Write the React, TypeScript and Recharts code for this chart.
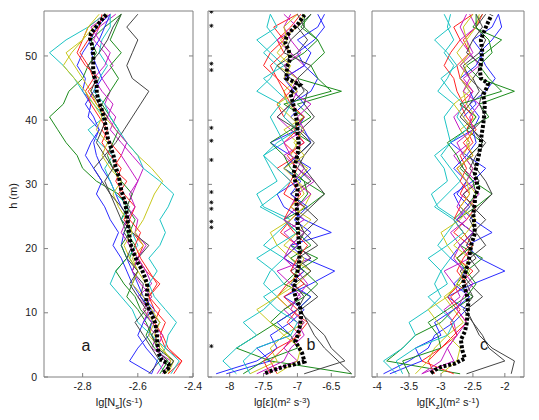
import { Scatter, ScatterChart, XAxis, YAxis } from "recharts"

const W = 539
const HT = 420
const TOP = 11
const BOTTOM = 377
const FONT = '"Liberation Sans", Arial, Helvetica, sans-serif'
const FRAME = "#808080"
const INK = "#1a1a1a"

// heights (m) at which the individual profiles are sampled
const depths = [0.5, 2.5, 4.5, 6.5, 8.5, 10.5, 12.5, 14.5, 16.5, 18.5, 20.5, 22.5, 24.5, 26.5, 28.5, 30.5, 32.5, 34.5, 36.5, 38.5, 40.5, 42.5, 44.5, 46.5, 48.5, 50.5, 52.5, 54.5, 56.5]
const hTicks = [0, 10, 20, 30, 40, 50]

// matlab-ish line order b g r c m y k
const lineColors = ["#2a2aff", "#1c8c1c", "#ff2424", "#1cc4c4", "#c41cc4", "#c8c81c", "#444444", "#2a2aff", "#1c8c1c", "#ff2424", "#1cc4c4", "#c41cc4", "#c8c81c", "#444444"]

// ---- panel a : lg Ns ----
const ticksA = [-2.8, -2.6, -2.4]
const profilesA = [
  [-2.55, -2.63, -2.60, -2.56, -2.55, -2.54, -2.58, -2.60, -2.62, -2.64, -2.66, -2.65, -2.63, -2.66, -2.68, -2.70, -2.73, -2.75, -2.76, -2.74, -2.78, -2.77, -2.80, -2.79, -2.82, -2.80, -2.77, -2.75, -2.70],
  [-2.50, -2.47, -2.52, -2.55, -2.57, -2.60, -2.64, -2.62, -2.60, -2.63, -2.61, -2.64, -2.66, -2.64, -2.67, -2.75, -2.80, -2.82, -2.86, -2.89, -2.92, -2.87, -2.85, -2.80, -2.78, -2.75, -2.77, -2.72, -2.66],
  [-2.47, -2.44, -2.50, -2.52, -2.50, -2.54, -2.56, -2.52, -2.57, -2.60, -2.58, -2.62, -2.65, -2.63, -2.67, -2.64, -2.69, -2.66, -2.70, -2.73, -2.71, -2.75, -2.78, -2.74, -2.79, -2.82, -2.80, -2.78, -2.72],
  [-2.50, -2.53, -2.50, -2.55, -2.60, -2.62, -2.66, -2.70, -2.68, -2.64, -2.60, -2.62, -2.66, -2.63, -2.68, -2.70, -2.72, -2.69, -2.74, -2.78, -2.72, -2.76, -2.80, -2.83, -2.87, -2.92, -2.86, -2.78, -2.72],
  [-2.51, -2.48, -2.55, -2.53, -2.58, -2.56, -2.60, -2.55, -2.57, -2.60, -2.57, -2.61, -2.60, -2.64, -2.62, -2.60, -2.58, -2.62, -2.66, -2.70, -2.68, -2.72, -2.70, -2.73, -2.69, -2.72, -2.76, -2.74, -2.68],
  [-2.49, -2.47, -2.52, -2.56, -2.54, -2.58, -2.55, -2.57, -2.60, -2.62, -2.58, -2.61, -2.58, -2.56, -2.54, -2.51, -2.55, -2.60, -2.64, -2.68, -2.72, -2.75, -2.77, -2.80, -2.83, -2.86, -2.80, -2.76, -2.71],
  [-2.50, -2.47, -2.53, -2.55, -2.52, -2.56, -2.59, -2.58, -2.62, -2.60, -2.56, -2.62, -2.66, -2.68, -2.70, -2.73, -2.76, -2.72, -2.68, -2.65, -2.62, -2.59, -2.56, -2.62, -2.64, -2.62, -2.60, -2.64, -2.60],
  [-2.55, -2.53, -2.57, -2.60, -2.58, -2.55, -2.59, -2.62, -2.64, -2.66, -2.69, -2.67, -2.70, -2.72, -2.75, -2.73, -2.76, -2.79, -2.77, -2.74, -2.76, -2.79, -2.76, -2.73, -2.75, -2.77, -2.74, -2.72, -2.70],
  [-2.52, -2.49, -2.54, -2.57, -2.55, -2.59, -2.61, -2.65, -2.68, -2.64, -2.66, -2.63, -2.61, -2.64, -2.62, -2.66, -2.69, -2.71, -2.69, -2.67, -2.70, -2.73, -2.70, -2.67, -2.70, -2.66, -2.70, -2.68, -2.66],
  [-2.49, -2.44, -2.49, -2.51, -2.54, -2.52, -2.56, -2.53, -2.56, -2.59, -2.61, -2.59, -2.63, -2.61, -2.65, -2.68, -2.66, -2.70, -2.73, -2.71, -2.74, -2.77, -2.79, -2.76, -2.78, -2.81, -2.78, -2.74, -2.73],
  [-2.48, -2.45, -2.50, -2.49, -2.46, -2.50, -2.54, -2.56, -2.53, -2.56, -2.52, -2.50, -2.52, -2.49, -2.47, -2.52, -2.58, -2.60, -2.64, -2.67, -2.70, -2.72, -2.76, -2.74, -2.71, -2.74, -2.73, -2.70, -2.70],
  [-2.53, -2.50, -2.53, -2.51, -2.55, -2.58, -2.55, -2.59, -2.62, -2.60, -2.63, -2.66, -2.64, -2.61, -2.63, -2.60, -2.63, -2.66, -2.64, -2.68, -2.71, -2.69, -2.73, -2.76, -2.72, -2.70, -2.74, -2.77, -2.70],
  [-2.50, -2.48, -2.51, -2.54, -2.52, -2.55, -2.58, -2.62, -2.60, -2.63, -2.65, -2.62, -2.64, -2.67, -2.69, -2.66, -2.70, -2.73, -2.71, -2.75, -2.73, -2.76, -2.79, -2.83, -2.87, -2.84, -2.80, -2.78, -2.74],
  [-2.56, -2.52, -2.55, -2.58, -2.61, -2.57, -2.60, -2.63, -2.60, -2.64, -2.62, -2.65, -2.63, -2.66, -2.70, -2.72, -2.69, -2.72, -2.75, -2.73, -2.71, -2.74, -2.77, -2.75, -2.78, -2.74, -2.71, -2.69, -2.66],
]
const meanAH = [0.7, 1.1, 1.6, 2.1, 2.6, 3.7, 5.2, 6.8, 8.4, 9.7, 10.7, 11.7, 12.8, 14.1, 15.4, 16.7, 18.0, 19.3, 20.8, 22.9, 25.0, 27.0, 29.1, 31.2, 32.8, 34.3, 35.9, 37.4, 39.0, 40.5, 41.8, 42.9, 44.2, 45.5, 46.8, 48.1, 49.9, 51.4, 52.7, 53.5, 55.1, 56.5]
const meanAX = [-2.508, -2.495, -2.484, -2.490, -2.513, -2.525, -2.529, -2.531, -2.537, -2.549, -2.561, -2.570, -2.567, -2.565, -2.573, -2.585, -2.603, -2.615, -2.627, -2.633, -2.639, -2.645, -2.660, -2.669, -2.681, -2.687, -2.699, -2.710, -2.716, -2.723, -2.732, -2.741, -2.749, -2.749, -2.758, -2.762, -2.761, -2.764, -2.773, -2.770, -2.741, -2.713]

// ---- panel b : lg epsilon ----
const ticksB = [-8, -7.5, -7, -6.5]
const profilesB = [
  [-8.2, -7.6, -7.3, -7.4, -7.1, -6.9, -7.2, -6.8, -6.45, -6.9, -7.1, -6.5, -6.9, -7.2, -7.3, -7.0, -6.8, -7.1, -7.4, -7.0, -6.9, -7.1, -6.8, -6.7, -6.9, -7.0, -6.75, -6.6, -6.7],
  [-6.2, -7.4, -7.9, -7.6, -7.3, -7.0, -6.8, -7.2, -7.0, -6.7, -7.1, -6.9, -7.2, -6.85, -6.6, -6.9, -7.2, -7.0, -6.8, -7.1, -6.8, -7.0, -6.35, -7.0, -7.2, -6.9, -6.7, -6.95, -6.8],
  [-7.3, -7.4, -7.2, -7.0, -6.85, -7.1, -7.3, -7.15, -6.9, -7.2, -7.0, -7.25, -7.1, -6.9, -7.2, -7.1, -7.3, -7.0, -7.2, -7.0, -7.2, -7.3, -7.1, -7.3, -7.4, -7.2, -7.3, -7.1, -6.95],
  [-7.9, -8.1, -7.9, -7.6, -7.8, -7.5, -7.3, -7.5, -7.4, -7.2, -7.5, -7.3, -7.1, -7.5, -7.6, -7.3, -7.4, -7.5, -7.2, -7.3, -7.4, -7.25, -7.6, -7.4, -7.3, -7.5, -7.3, -7.45, -7.4],
  [-7.6, -7.2, -7.1, -6.9, -7.0, -7.2, -6.95, -7.1, -7.3, -6.8, -7.0, -7.2, -6.9, -7.1, -7.0, -6.75, -7.0, -7.2, -6.9, -7.1, -7.3, -7.1, -7.0, -7.2, -6.9, -7.1, -7.3, -7.0, -7.2],
  [-7.7, -7.3, -7.4, -7.2, -6.9, -7.1, -7.3, -7.0, -6.8, -7.1, -7.3, -7.4, -7.1, -6.9, -6.8, -7.0, -6.85, -7.1, -7.0, -7.2, -6.9, -7.15, -7.2, -7.0, -7.3, -7.1, -7.25, -7.0, -6.9],
  [-6.2, -6.4, -6.6, -6.75, -6.85, -6.95, -6.7, -6.9, -7.1, -6.8, -7.0, -6.9, -6.7, -6.9, -7.1, -6.8, -7.0, -6.9, -6.75, -6.95, -6.75, -6.9, -6.85, -7.1, -7.3, -7.0, -6.85, -7.0, -6.8],
  [-8.05, -7.4, -7.6, -7.1, -7.3, -7.0, -6.8, -7.1, -6.9, -7.2, -7.0, -6.8, -7.05, -6.85, -7.1, -6.95, -7.2, -7.0, -6.8, -6.9, -7.1, -6.9, -7.05, -7.2, -6.9, -6.8, -7.0, -6.7, -6.6],
  [-7.8, -7.5, -7.0, -7.1, -7.4, -7.2, -6.9, -6.7, -6.9, -7.1, -6.8, -7.0, -7.2, -7.0, -6.85, -6.9, -7.1, -7.2, -7.4, -7.1, -6.9, -7.2, -6.5, -6.7, -6.8, -6.6, -6.7, -6.9, -6.9],
  [-7.4, -7.5, -7.3, -6.95, -7.15, -7.0, -7.2, -6.9, -7.1, -7.0, -6.85, -7.05, -7.2, -7.1, -6.95, -7.1, -7.0, -7.15, -6.9, -7.05, -6.9, -7.1, -7.2, -7.3, -7.5, -7.4, -7.2, -7.35, -7.0],
  [-7.7, -7.8, -7.6, -7.1, -7.0, -7.3, -7.5, -7.2, -7.35, -7.6, -7.3, -7.0, -7.2, -7.55, -7.3, -7.1, -7.3, -7.5, -7.3, -7.0, -7.2, -7.1, -7.3, -7.5, -7.2, -7.4, -7.6, -7.3, -7.4],
  [-7.5, -7.0, -7.2, -7.05, -6.9, -7.1, -7.0, -6.85, -7.0, -7.2, -7.1, -6.9, -7.2, -7.0, -6.8, -7.05, -6.9, -7.1, -7.2, -6.9, -7.0, -6.8, -7.1, -7.0, -7.2, -6.95, -7.1, -7.2, -7.1],
  [-7.3, -7.0, -6.95, -7.2, -7.4, -7.6, -7.3, -7.1, -7.0, -6.9, -7.2, -7.0, -6.8, -7.1, -6.9, -7.0, -7.2, -6.9, -7.05, -6.9, -7.1, -7.3, -7.0, -7.2, -7.1, -7.3, -7.15, -7.2, -7.0],
  [-6.9, -6.3, -6.5, -6.6, -6.8, -7.0, -6.9, -7.05, -6.8, -7.0, -6.7, -6.9, -7.0, -6.8, -6.6, -6.75, -6.9, -7.0, -6.8, -7.0, -7.3, -7.1, -6.9, -7.0, -6.8, -7.2, -7.1, -6.9, -7.0],
]
const meanBH = [0.6, 1.1, 1.6, 2.0, 2.4, 3.7, 4.7, 5.5, 6.5, 7.8, 9.4, 10.7, 12.0, 13.6, 15.1, 17.2, 19.3, 21.3, 23.4, 25.5, 27.6, 29.1, 30.4, 31.7, 33.3, 34.8, 36.4, 37.9, 39.5, 41.1, 42.6, 44.2, 45.0, 45.5, 46.0, 46.5, 48.3, 49.6, 50.9, 52.0, 53.0, 53.8, 55.1, 56.4]
const meanBX = [-7.475, -7.352, -7.204, -7.030, -6.896, -6.930, -6.981, -7.030, -6.996, -6.966, -6.945, -6.955, -7.015, -7.055, -7.030, -6.981, -6.966, -6.981, -6.996, -7.004, -7.015, -6.996, -7.030, -7.055, -7.030, -6.996, -6.981, -6.996, -7.004, -7.030, -7.064, -7.104, -7.030, -6.966, -7.055, -7.163, -7.153, -7.104, -7.129, -7.178, -7.163, -7.104, -6.981, -6.896]
const starH = [56.9, 54.7, 48.8, 47.8, 38.8, 36.8, 33.8, 28.8, 27.2, 26.2, 24.2, 23.3, 4.8]
const starX = -8.27

// ---- panel c : lg Kz ----
const ticksC = [-4, -3.5, -3, -2.5, -2]
const profilesC = [
  [-3.9, -3.5, -3.2, -3.1, -2.8, -2.6, -2.9, -2.5, -2.0, -2.4, -2.6, -2.2, -2.5, -2.7, -2.8, -2.5, -2.3, -2.6, -2.85, -2.5, -2.4, -2.55, -2.3, -2.15, -2.3, -2.4, -2.2, -2.05, -2.1],
  [-2.7, -3.85, -3.6, -3.4, -3.0, -2.8, -2.5, -2.75, -2.6, -2.35, -2.7, -2.5, -2.75, -2.45, -2.2, -2.5, -2.7, -2.55, -2.35, -2.6, -2.25, -2.4, -1.85, -2.4, -2.6, -2.3, -2.05, -2.5, -2.35],
  [-2.8, -3.3, -3.0, -2.8, -2.6, -2.75, -2.9, -2.7, -2.5, -2.75, -2.55, -2.8, -2.6, -2.45, -2.7, -2.6, -2.75, -2.5, -2.65, -2.45, -2.6, -2.7, -2.5, -2.7, -2.75, -2.55, -2.65, -2.45, -2.35],
  [-3.7, -3.9, -3.6, -3.4, -3.5, -3.2, -3.0, -3.1, -3.0, -2.85, -3.05, -2.9, -2.75, -3.05, -3.15, -2.9, -2.95, -3.1, -2.85, -2.9, -2.95, -2.8, -3.05, -2.9, -2.8, -2.95, -2.8, -2.9, -2.85],
  [-3.3, -3.0, -2.9, -2.75, -2.8, -2.95, -2.7, -2.8, -2.95, -2.55, -2.7, -2.85, -2.6, -2.75, -2.65, -2.45, -2.65, -2.8, -2.55, -2.7, -2.8, -2.6, -2.5, -2.65, -2.4, -2.55, -2.7, -2.45, -2.55],
  [-3.4, -3.2, -3.1, -2.9, -2.65, -2.8, -2.95, -2.7, -2.55, -2.75, -2.9, -3.0, -2.7, -2.55, -2.45, -2.6, -2.5, -2.65, -2.55, -2.7, -2.45, -2.6, -2.65, -2.5, -2.7, -2.55, -2.6, -2.45, -2.4],
  [-1.9, -1.85, -2.2, -2.4, -2.5, -2.6, -2.35, -2.55, -2.7, -2.45, -2.6, -2.5, -2.3, -2.5, -2.65, -2.4, -2.55, -2.45, -2.3, -2.5, -2.3, -2.4, -2.35, -2.55, -2.65, -2.4, -2.3, -2.45, -2.3],
  [-3.8, -3.3, -3.4, -3.0, -3.1, -2.8, -2.55, -2.8, -2.6, -2.85, -2.7, -2.5, -2.75, -2.55, -2.75, -2.6, -2.8, -2.6, -2.45, -2.5, -2.65, -2.45, -2.55, -2.7, -2.45, -2.35, -2.5, -2.2, -2.1],
  [-3.5, -3.6, -3.0, -3.05, -3.2, -2.9, -2.6, -2.45, -2.6, -2.75, -2.5, -2.65, -2.8, -2.6, -2.45, -2.5, -2.65, -2.75, -2.9, -2.6, -2.45, -2.7, -2.05, -2.25, -2.4, -2.2, -2.25, -2.45, -2.45],
  [-3.1, -3.2, -3.0, -2.75, -2.85, -2.7, -2.85, -2.6, -2.75, -2.65, -2.5, -2.65, -2.8, -2.7, -2.55, -2.7, -2.6, -2.7, -2.5, -2.6, -2.5, -2.65, -2.75, -2.8, -2.95, -2.85, -2.7, -2.8, -2.5],
  [-3.6, -3.7, -3.4, -2.9, -2.8, -3.0, -3.2, -2.9, -3.0, -3.2, -2.9, -2.65, -2.8, -3.1, -2.9, -2.7, -2.85, -3.0, -2.85, -2.6, -2.75, -2.65, -2.85, -3.0, -2.75, -2.9, -3.1, -2.85, -2.95],
  [-3.3, -2.8, -2.9, -2.75, -2.6, -2.75, -2.65, -2.5, -2.65, -2.8, -2.7, -2.5, -2.75, -2.6, -2.4, -2.6, -2.5, -2.65, -2.75, -2.5, -2.55, -2.4, -2.65, -2.55, -2.7, -2.5, -2.6, -2.7, -2.6],
  [-3.0, -2.75, -2.7, -2.9, -3.05, -3.2, -2.9, -2.75, -2.65, -2.55, -2.8, -2.6, -2.45, -2.7, -2.55, -2.6, -2.75, -2.5, -2.6, -2.5, -2.65, -2.8, -2.55, -2.7, -2.6, -2.75, -2.6, -2.65, -2.5],
  [-2.6, -2.0, -2.25, -2.35, -2.5, -2.65, -2.5, -2.6, -2.4, -2.55, -2.3, -2.45, -2.55, -2.4, -2.2, -2.3, -2.45, -2.55, -2.35, -2.5, -2.7, -2.55, -2.4, -2.5, -2.35, -2.6, -2.5, -2.35, -2.45],
]
const meanCH = [0.6, 1.1, 1.6, 2.1, 2.9, 4.2, 5.8, 7.1, 8.3, 9.9, 11.5, 13.0, 14.6, 16.1, 17.7, 19.3, 20.8, 22.4, 23.9, 25.5, 27.0, 28.1, 29.4, 30.4, 31.7, 33.0, 34.6, 36.1, 37.7, 39.3, 40.8, 42.4, 43.9, 45.0, 45.7, 46.5, 47.8, 49.4, 50.9, 52.5, 53.5, 55.1, 56.4]
const meanCX = [-3.156, -3.094, -2.989, -2.781, -2.625, -2.667, -2.688, -2.625, -2.598, -2.583, -2.573, -2.598, -2.652, -2.625, -2.573, -2.547, -2.520, -2.469, -2.480, -2.495, -2.470, -2.469, -2.417, -2.442, -2.469, -2.442, -2.406, -2.380, -2.364, -2.339, -2.323, -2.313, -2.339, -2.286, -2.261, -2.375, -2.391, -2.364, -2.355, -2.375, -2.339, -2.270, -2.208]

const noDot = () => <g />

function StarMark(props: { cx?: number; cy?: number }) {
  const { cx, cy } = props
  if (cx === undefined || cy === undefined) return <g />
  const r = 2
  const d = 1.5
  return (
    <g stroke="#000" strokeWidth={0.8}>
      <line x1={cx - r} y1={cy} x2={cx + r} y2={cy} />
      <line x1={cx} y1={cy - r} x2={cx} y2={cy + r} />
      <line x1={cx - d} y1={cy - d} x2={cx + d} y2={cy + d} />
      <line x1={cx - d} y1={cy + d} x2={cx + d} y2={cy - d} />
    </g>
  )
}

function BottomTick(props: any) {
  const { x, y, payload } = props
  return (
    <g>
      <line x1={x} y1={y} x2={x} y2={y - 4} stroke={FRAME} />
      <text x={x} y={y + 13} textAnchor="middle" fontSize={10.5} fill={INK} fontFamily={FONT}>
        {String(payload.value)}
      </text>
    </g>
  )
}

function TopTick(props: any) {
  const { x, y } = props
  return <line x1={x} y1={y} x2={x} y2={y + 4} stroke={FRAME} />
}

function LeftTick(props: any) {
  const { x, y, payload, labels } = props
  return (
    <g>
      <line x1={x} y1={y} x2={x + 4} y2={y} stroke={FRAME} />
      {labels && (
        <text x={x - 7} y={y} dy="0.35em" textAnchor="end" fontSize={10.5} fill={INK} fontFamily={FONT}>
          {String(payload.value)}
        </text>
      )}
    </g>
  )
}

function RightTick(props: any) {
  const { x, y } = props
  return <line x1={x} y1={y} x2={x - 4} y2={y} stroke={FRAME} />
}

interface PanelProps {
  left: number
  right: number
  domain: [number, number]
  ticks: number[]
  profiles: number[][]
  meanH: number[]
  meanX: number[]
  labels?: boolean
  stars?: number[]
}

// axes get 1px of room (0 makes recharts skip them), margins compensate
function Panel({ left, right, domain, ticks, profiles, meanH, meanX, labels = false, stars }: PanelProps) {
  const mean = meanH.map((h, i) => ({ h, x: meanX[i] }))
  return (
    <div style={{ position: "absolute", left: 0, top: 0 }}>
      <ScatterChart width={W} height={HT} margin={{ top: TOP - 1, bottom: HT - BOTTOM - 1, left: left - 1, right: W - right - 1 }}>
        <XAxis
          type="number"
          dataKey="x"
          domain={domain}
          ticks={ticks}
          allowDataOverflow
          interval={0}
          height={1}
          tickSize={0}
          tickMargin={0}
          tickLine={false}
          axisLine={{ stroke: FRAME }}
          tick={(p: any) => <BottomTick {...p} />}
        />
        <XAxis
          xAxisId="top"
          orientation="top"
          type="number"
          domain={domain}
          ticks={ticks}
          allowDataOverflow
          interval={0}
          height={1}
          tickSize={0}
          tickMargin={0}
          tickLine={false}
          axisLine={{ stroke: FRAME }}
          tick={(p: any) => <TopTick {...p} />}
        />
        <YAxis
          type="number"
          dataKey="h"
          domain={[0, 57]}
          ticks={hTicks}
          allowDataOverflow
          interval={0}
          width={1}
          tickSize={0}
          tickMargin={0}
          tickLine={false}
          axisLine={{ stroke: FRAME }}
          tick={(p: any) => <LeftTick {...p} labels={labels} />}
        />
        <YAxis
          yAxisId="r"
          orientation="right"
          type="number"
          domain={[0, 57]}
          ticks={hTicks}
          allowDataOverflow
          interval={0}
          width={1}
          tickSize={0}
          tickMargin={0}
          tickLine={false}
          axisLine={{ stroke: FRAME }}
          tick={(p: any) => <RightTick {...p} />}
        />
        {profiles.map((vals, i) => (
          <Scatter
            key={i}
            data={depths.map((h, j) => ({ h, x: vals[j] }))}
            line={{ stroke: lineColors[i], strokeWidth: 1 }}
            lineJointType="linear"
            shape={noDot}
            isAnimationActive={false}
          />
        ))}
        <Scatter
          data={mean}
          line={{ stroke: "#000", strokeWidth: 4, strokeDasharray: "3 1.8" }}
          lineJointType="linear"
          shape={noDot}
          isAnimationActive={false}
        />
        {stars && (
          <Scatter
            data={stars.map((h) => ({ h, x: starX }))}
            shape={(p: any) => <StarMark {...p} />}
            isAnimationActive={false}
          />
        )}
      </ScatterChart>
    </div>
  )
}

const txt = { fontFamily: FONT, fill: INK }

export default function App() {
  return (
    <div style={{ position: "absolute", left: 0, top: 0, width: W, height: HT, background: "#fff" }}>
      <Panel left={44} right={193} domain={[-2.94, -2.4]} ticks={ticksA} profiles={profilesA} meanH={meanAH} meanX={meanAX} labels />
      <Panel left={208} right={355} domain={[-8.32, -6.15]} ticks={ticksB} profiles={profilesB} meanH={meanBH} meanX={meanBX} stars={starH} />
      <Panel left={372} right={524} domain={[-4.08, -1.7]} ticks={ticksC} profiles={profilesC} meanH={meanCH} meanX={meanCX} />
      <svg width={W} height={HT} style={{ position: "absolute", left: 0, top: 0, pointerEvents: "none" }}>
        <text transform="translate(17,196) rotate(-90)" textAnchor="middle" fontSize={11} {...txt}>
          h (m)
        </text>
        <text x={119} y={406} textAnchor="middle" fontSize={11} {...txt}>
          lg[N<tspan fontSize={8} dy={3}>s</tspan>
          <tspan dy={-3}>](s</tspan>
          <tspan fontSize={8} dy={-3}>-1</tspan>
          <tspan dy={3}>)</tspan>
        </text>
        <text x={282} y={406} textAnchor="middle" fontSize={11} {...txt}>
          lg[ε](m<tspan fontSize={8} dy={-3}>2</tspan>
          <tspan dy={3}> s</tspan>
          <tspan fontSize={8} dy={-3}>-3</tspan>
          <tspan dy={3}>)</tspan>
        </text>
        <text x={448} y={406} textAnchor="middle" fontSize={11} {...txt}>
          lg[K<tspan fontSize={8} dy={3}>z</tspan>
          <tspan dy={-3}>](m</tspan>
          <tspan fontSize={8} dy={-3}>2</tspan>
          <tspan dy={3}> s</tspan>
          <tspan fontSize={8} dy={-3}>-1</tspan>
          <tspan dy={3}>)</tspan>
        </text>
        <text x={86} y={351} textAnchor="middle" fontSize={16} {...txt}>a</text>
        <text x={311} y={350} textAnchor="middle" fontSize={16} {...txt}>b</text>
        <text x={484} y={350} textAnchor="middle" fontSize={16} {...txt}>c</text>
      </svg>
    </div>
  )
}
